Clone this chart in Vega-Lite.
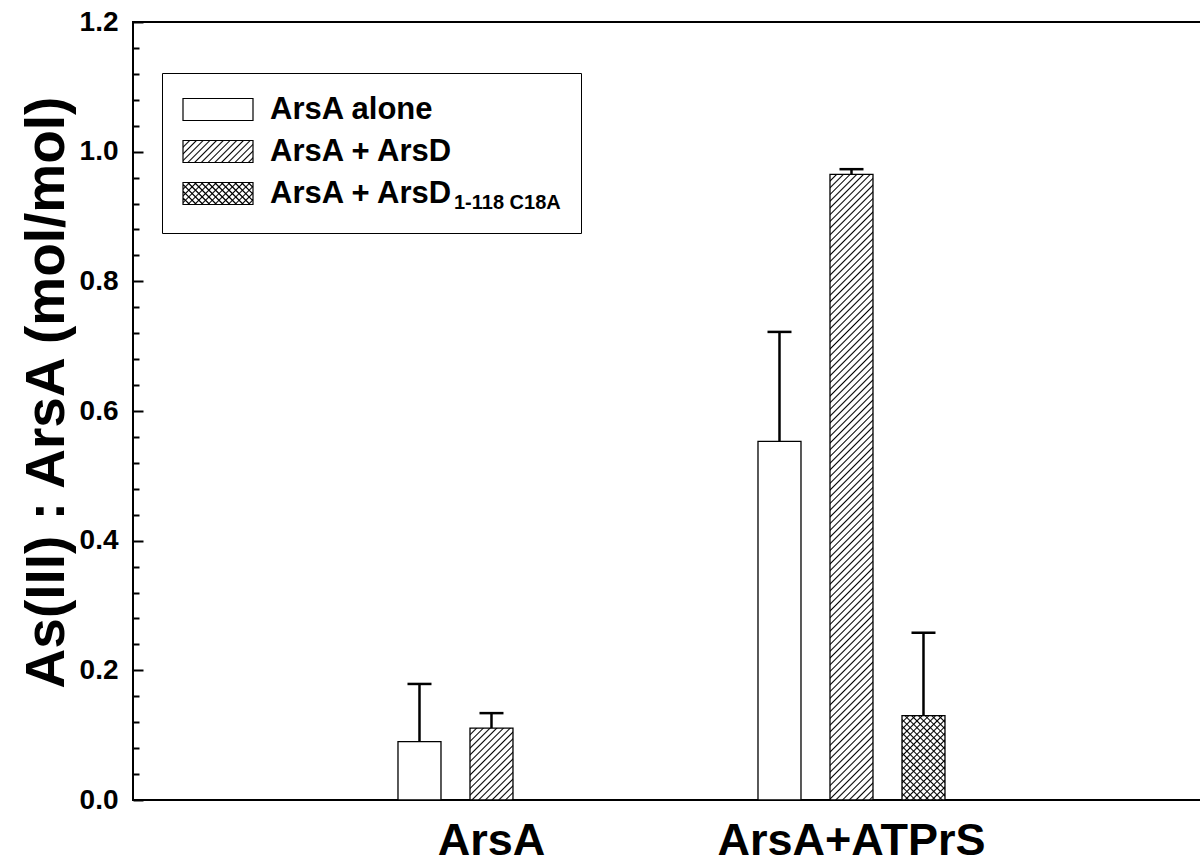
{
"$schema": "https://vega.github.io/schema/vega-lite/v6.json",
"width": 1070,
"height": 778,
"autosize": {"type": "none"},
"padding": {"left": 133, "top": 22, "right": 0, "bottom": 66},
"background": "white",
"config": {"view": {"stroke": "black", "strokeWidth": 2}, "font": "Liberation Sans"},
"params": [{"name": "hs", "value": [
{"offset":0.00,"color":"#000"},{"offset":0.0022,"color":"transparent"},{"offset":0.0078,"color":"transparent"},
{"offset":0.01,"color":"#000"},{"offset":0.0122,"color":"transparent"},{"offset":0.0178,"color":"transparent"},
{"offset":0.02,"color":"#000"},{"offset":0.0222,"color":"transparent"},{"offset":0.0278,"color":"transparent"},
{"offset":0.03,"color":"#000"},{"offset":0.0322,"color":"transparent"},{"offset":0.0378,"color":"transparent"},
{"offset":0.04,"color":"#000"},{"offset":0.0422,"color":"transparent"},{"offset":0.0478,"color":"transparent"},
{"offset":0.05,"color":"#000"},{"offset":0.0522,"color":"transparent"},{"offset":0.0578,"color":"transparent"},
{"offset":0.06,"color":"#000"},{"offset":0.0622,"color":"transparent"},{"offset":0.0678,"color":"transparent"},
{"offset":0.07,"color":"#000"},{"offset":0.0722,"color":"transparent"},{"offset":0.0778,"color":"transparent"},
{"offset":0.08,"color":"#000"},{"offset":0.0822,"color":"transparent"},{"offset":0.0878,"color":"transparent"},
{"offset":0.09,"color":"#000"},{"offset":0.0922,"color":"transparent"},{"offset":0.0978,"color":"transparent"},
{"offset":0.10,"color":"#000"},{"offset":0.1022,"color":"transparent"},{"offset":0.1078,"color":"transparent"},
{"offset":0.11,"color":"#000"},{"offset":0.1122,"color":"transparent"},{"offset":0.1178,"color":"transparent"},
{"offset":0.12,"color":"#000"},{"offset":0.1222,"color":"transparent"},{"offset":0.1278,"color":"transparent"},
{"offset":0.13,"color":"#000"},{"offset":0.1322,"color":"transparent"},{"offset":0.1378,"color":"transparent"},
{"offset":0.14,"color":"#000"},{"offset":0.1422,"color":"transparent"},{"offset":0.1478,"color":"transparent"},
{"offset":0.15,"color":"#000"},{"offset":0.1522,"color":"transparent"},{"offset":0.1578,"color":"transparent"},
{"offset":0.16,"color":"#000"},{"offset":0.1622,"color":"transparent"},{"offset":0.1678,"color":"transparent"},
{"offset":0.17,"color":"#000"},{"offset":0.1722,"color":"transparent"},{"offset":0.1778,"color":"transparent"},
{"offset":0.18,"color":"#000"},{"offset":0.1822,"color":"transparent"},{"offset":0.1878,"color":"transparent"},
{"offset":0.19,"color":"#000"},{"offset":0.1922,"color":"transparent"},{"offset":0.1978,"color":"transparent"},
{"offset":0.20,"color":"#000"},{"offset":0.2022,"color":"transparent"},{"offset":0.2078,"color":"transparent"},
{"offset":0.21,"color":"#000"},{"offset":0.2122,"color":"transparent"},{"offset":0.2178,"color":"transparent"},
{"offset":0.22,"color":"#000"},{"offset":0.2222,"color":"transparent"},{"offset":0.2278,"color":"transparent"},
{"offset":0.23,"color":"#000"},{"offset":0.2322,"color":"transparent"},{"offset":0.2378,"color":"transparent"},
{"offset":0.24,"color":"#000"},{"offset":0.2422,"color":"transparent"},{"offset":0.2478,"color":"transparent"},
{"offset":0.25,"color":"#000"},{"offset":0.2522,"color":"transparent"},{"offset":0.2578,"color":"transparent"},
{"offset":0.26,"color":"#000"},{"offset":0.2622,"color":"transparent"},{"offset":0.2678,"color":"transparent"},
{"offset":0.27,"color":"#000"},{"offset":0.2722,"color":"transparent"},{"offset":0.2778,"color":"transparent"},
{"offset":0.28,"color":"#000"},{"offset":0.2822,"color":"transparent"},{"offset":0.2878,"color":"transparent"},
{"offset":0.29,"color":"#000"},{"offset":0.2922,"color":"transparent"},{"offset":0.2978,"color":"transparent"},
{"offset":0.30,"color":"#000"},{"offset":0.3022,"color":"transparent"},{"offset":0.3078,"color":"transparent"},
{"offset":0.31,"color":"#000"},{"offset":0.3122,"color":"transparent"},{"offset":0.3178,"color":"transparent"},
{"offset":0.32,"color":"#000"},{"offset":0.3222,"color":"transparent"},{"offset":0.3278,"color":"transparent"},
{"offset":0.33,"color":"#000"},{"offset":0.3322,"color":"transparent"},{"offset":0.3378,"color":"transparent"},
{"offset":0.34,"color":"#000"},{"offset":0.3422,"color":"transparent"},{"offset":0.3478,"color":"transparent"},
{"offset":0.35,"color":"#000"},{"offset":0.3522,"color":"transparent"},{"offset":0.3578,"color":"transparent"},
{"offset":0.36,"color":"#000"},{"offset":0.3622,"color":"transparent"},{"offset":0.3678,"color":"transparent"},
{"offset":0.37,"color":"#000"},{"offset":0.3722,"color":"transparent"},{"offset":0.3778,"color":"transparent"},
{"offset":0.38,"color":"#000"},{"offset":0.3822,"color":"transparent"},{"offset":0.3878,"color":"transparent"},
{"offset":0.39,"color":"#000"},{"offset":0.3922,"color":"transparent"},{"offset":0.3978,"color":"transparent"},
{"offset":0.40,"color":"#000"},{"offset":0.4022,"color":"transparent"},{"offset":0.4078,"color":"transparent"},
{"offset":0.41,"color":"#000"},{"offset":0.4122,"color":"transparent"},{"offset":0.4178,"color":"transparent"},
{"offset":0.42,"color":"#000"},{"offset":0.4222,"color":"transparent"},{"offset":0.4278,"color":"transparent"},
{"offset":0.43,"color":"#000"},{"offset":0.4322,"color":"transparent"},{"offset":0.4378,"color":"transparent"},
{"offset":0.44,"color":"#000"},{"offset":0.4422,"color":"transparent"},{"offset":0.4478,"color":"transparent"},
{"offset":0.45,"color":"#000"},{"offset":0.4522,"color":"transparent"},{"offset":0.4578,"color":"transparent"},
{"offset":0.46,"color":"#000"},{"offset":0.4622,"color":"transparent"},{"offset":0.4678,"color":"transparent"},
{"offset":0.47,"color":"#000"},{"offset":0.4722,"color":"transparent"},{"offset":0.4778,"color":"transparent"},
{"offset":0.48,"color":"#000"},{"offset":0.4822,"color":"transparent"},{"offset":0.4878,"color":"transparent"},
{"offset":0.49,"color":"#000"},{"offset":0.4922,"color":"transparent"},{"offset":0.4978,"color":"transparent"},
{"offset":0.50,"color":"#000"},{"offset":0.5022,"color":"transparent"},{"offset":0.5078,"color":"transparent"},
{"offset":0.51,"color":"#000"},{"offset":0.5122,"color":"transparent"},{"offset":0.5178,"color":"transparent"},
{"offset":0.52,"color":"#000"},{"offset":0.5222,"color":"transparent"},{"offset":0.5278,"color":"transparent"},
{"offset":0.53,"color":"#000"},{"offset":0.5322,"color":"transparent"},{"offset":0.5378,"color":"transparent"},
{"offset":0.54,"color":"#000"},{"offset":0.5422,"color":"transparent"},{"offset":0.5478,"color":"transparent"},
{"offset":0.55,"color":"#000"},{"offset":0.5522,"color":"transparent"},{"offset":0.5578,"color":"transparent"},
{"offset":0.56,"color":"#000"},{"offset":0.5622,"color":"transparent"},{"offset":0.5678,"color":"transparent"},
{"offset":0.57,"color":"#000"},{"offset":0.5722,"color":"transparent"},{"offset":0.5778,"color":"transparent"},
{"offset":0.58,"color":"#000"},{"offset":0.5822,"color":"transparent"},{"offset":0.5878,"color":"transparent"},
{"offset":0.59,"color":"#000"},{"offset":0.5922,"color":"transparent"},{"offset":0.5978,"color":"transparent"},
{"offset":0.60,"color":"#000"},{"offset":0.6022,"color":"transparent"},{"offset":0.6078,"color":"transparent"},
{"offset":0.61,"color":"#000"},{"offset":0.6122,"color":"transparent"},{"offset":0.6178,"color":"transparent"},
{"offset":0.62,"color":"#000"},{"offset":0.6222,"color":"transparent"},{"offset":0.6278,"color":"transparent"},
{"offset":0.63,"color":"#000"},{"offset":0.6322,"color":"transparent"},{"offset":0.6378,"color":"transparent"},
{"offset":0.64,"color":"#000"},{"offset":0.6422,"color":"transparent"},{"offset":0.6478,"color":"transparent"},
{"offset":0.65,"color":"#000"},{"offset":0.6522,"color":"transparent"},{"offset":0.6578,"color":"transparent"},
{"offset":0.66,"color":"#000"},{"offset":0.6622,"color":"transparent"},{"offset":0.6678,"color":"transparent"},
{"offset":0.67,"color":"#000"},{"offset":0.6722,"color":"transparent"},{"offset":0.6778,"color":"transparent"},
{"offset":0.68,"color":"#000"},{"offset":0.6822,"color":"transparent"},{"offset":0.6878,"color":"transparent"},
{"offset":0.69,"color":"#000"},{"offset":0.6922,"color":"transparent"},{"offset":0.6978,"color":"transparent"},
{"offset":0.70,"color":"#000"},{"offset":0.7022,"color":"transparent"},{"offset":0.7078,"color":"transparent"},
{"offset":0.71,"color":"#000"},{"offset":0.7122,"color":"transparent"},{"offset":0.7178,"color":"transparent"},
{"offset":0.72,"color":"#000"},{"offset":0.7222,"color":"transparent"},{"offset":0.7278,"color":"transparent"},
{"offset":0.73,"color":"#000"},{"offset":0.7322,"color":"transparent"},{"offset":0.7378,"color":"transparent"},
{"offset":0.74,"color":"#000"},{"offset":0.7422,"color":"transparent"},{"offset":0.7478,"color":"transparent"},
{"offset":0.75,"color":"#000"},{"offset":0.7522,"color":"transparent"},{"offset":0.7578,"color":"transparent"},
{"offset":0.76,"color":"#000"},{"offset":0.7622,"color":"transparent"},{"offset":0.7678,"color":"transparent"},
{"offset":0.77,"color":"#000"},{"offset":0.7722,"color":"transparent"},{"offset":0.7778,"color":"transparent"},
{"offset":0.78,"color":"#000"},{"offset":0.7822,"color":"transparent"},{"offset":0.7878,"color":"transparent"},
{"offset":0.79,"color":"#000"},{"offset":0.7922,"color":"transparent"},{"offset":0.7978,"color":"transparent"},
{"offset":0.80,"color":"#000"},{"offset":0.8022,"color":"transparent"},{"offset":0.8078,"color":"transparent"},
{"offset":0.81,"color":"#000"},{"offset":0.8122,"color":"transparent"},{"offset":0.8178,"color":"transparent"},
{"offset":0.82,"color":"#000"},{"offset":0.8222,"color":"transparent"},{"offset":0.8278,"color":"transparent"},
{"offset":0.83,"color":"#000"},{"offset":0.8322,"color":"transparent"},{"offset":0.8378,"color":"transparent"},
{"offset":0.84,"color":"#000"},{"offset":0.8422,"color":"transparent"},{"offset":0.8478,"color":"transparent"},
{"offset":0.85,"color":"#000"},{"offset":0.8522,"color":"transparent"},{"offset":0.8578,"color":"transparent"},
{"offset":0.86,"color":"#000"},{"offset":0.8622,"color":"transparent"},{"offset":0.8678,"color":"transparent"},
{"offset":0.87,"color":"#000"},{"offset":0.8722,"color":"transparent"},{"offset":0.8778,"color":"transparent"},
{"offset":0.88,"color":"#000"},{"offset":0.8822,"color":"transparent"},{"offset":0.8878,"color":"transparent"},
{"offset":0.89,"color":"#000"},{"offset":0.8922,"color":"transparent"},{"offset":0.8978,"color":"transparent"},
{"offset":0.90,"color":"#000"},{"offset":0.9022,"color":"transparent"},{"offset":0.9078,"color":"transparent"},
{"offset":0.91,"color":"#000"},{"offset":0.9122,"color":"transparent"},{"offset":0.9178,"color":"transparent"},
{"offset":0.92,"color":"#000"},{"offset":0.9222,"color":"transparent"},{"offset":0.9278,"color":"transparent"},
{"offset":0.93,"color":"#000"},{"offset":0.9322,"color":"transparent"},{"offset":0.9378,"color":"transparent"},
{"offset":0.94,"color":"#000"},{"offset":0.9422,"color":"transparent"},{"offset":0.9478,"color":"transparent"},
{"offset":0.95,"color":"#000"},{"offset":0.9522,"color":"transparent"},{"offset":0.9578,"color":"transparent"},
{"offset":0.96,"color":"#000"},{"offset":0.9622,"color":"transparent"},{"offset":0.9678,"color":"transparent"},
{"offset":0.97,"color":"#000"},{"offset":0.9722,"color":"transparent"},{"offset":0.9778,"color":"transparent"},
{"offset":0.98,"color":"#000"},{"offset":0.9822,"color":"transparent"},{"offset":0.9878,"color":"transparent"},
{"offset":0.99,"color":"#000"},{"offset":0.9922,"color":"transparent"},{"offset":0.9978,"color":"transparent"},
{"offset":1,"color":"#000"}
]}],
"data": {"values": [
{"group": "ArsA", "series": "ArsA alone", "ratio": 0.090, "err_top": 0.179},
{"group": "ArsA", "series": "ArsA + ArsD", "ratio": 0.111, "err_top": 0.134},
{"group": "ArsA+ATPrS", "series": "ArsA alone", "ratio": 0.553, "err_top": 0.722},
{"group": "ArsA+ATPrS", "series": "ArsA + ArsD", "ratio": 0.965, "err_top": 0.973},
{"group": "ArsA+ATPrS", "series": "ArsA + ArsD1-118 C18A", "ratio": 0.130, "err_top": 0.258}
]},
"resolve": {"axis": {"y": "independent"}},
"layer": [
{
"mark": {"type": "bar", "fill": "white", "strokeWidth": 0},
"encoding": {
"x": {"field": "group", "type": "nominal", "sort": null,
"scale": {"domain": ["ArsA", "ArsA+ATPrS"], "paddingInner": 0.0806, "paddingOuter": 0.5264, "align": 0.5092},
"axis": {"title": null, "domain": false, "ticks": false, "tickSize": 0, "labelAngle": 0, "labelFont": "Liberation Sans", "labelFontSize": 45, "labelFontWeight": "bold", "labelColor": "black", "labelBaseline": "top", "labelPadding": 18, "labelLimit": 1000, "labelOverlap": false, "labelFlush": false}},
"xOffset": {"field": "series", "type": "nominal", "sort": null,
"scale": {"domain": ["ArsA alone", "ArsA + ArsD", "ArsA + ArsD1-118 C18A"], "paddingInner": 0.40278, "paddingOuter": 1}},
"y": {"field": "ratio", "type": "quantitative",
"scale": {"domain": [0, 1.2], "nice": false, "zero": true},
"axis": {"orient": "left", "values": [0, 0.2, 0.4, 0.6, 0.8, 1.0, 1.2], "format": ".1f", "grid": false, "domain": false,
"ticks": true, "tickSize": -10, "tickWidth": 2, "tickColor": "black",
"labelFont": "Liberation Sans", "labelFontSize": 28, "labelFontWeight": "bold", "labelColor": "black", "labelPadding": 25, "labelFlush": false, "labelOverlap": false,
"title": "As(III) : ArsA (mol/mol)", "titleFont": "Liberation Sans", "titleFontSize": 55, "titleFontWeight": "bold", "titleColor": "black",
"titleAngle": -90, "titleX": -70, "titleY": 370, "titleAlign": "center", "titleBaseline": "alphabetic"}}
}
},
{
"transform": [{"filter": "datum.series !== 'ArsA alone'"}],
"mark": {"type": "bar", "strokeWidth": 0},
"encoding": {
"x": {"field": "group", "type": "nominal", "sort": null},
"xOffset": {"field": "series", "type": "nominal", "sort": null},
"y": {"field": "ratio", "type": "quantitative", "axis": null},
"fill": {"value": {"expr": "{gradient:'linear',x1:0,y1:0,x2:bandwidth('xOffset')*671.75/(pow(bandwidth('xOffset'),2)+pow(scale('y',0)-scale('y',datum.ratio),2)),y2:(scale('y',0)-scale('y',datum.ratio))*671.75/(pow(bandwidth('xOffset'),2)+pow(scale('y',0)-scale('y',datum.ratio),2)),stops:hs}"}}
}
},
{
"transform": [{"filter": "datum.series === 'ArsA + ArsD1-118 C18A'"}],
"mark": {"type": "bar", "strokeWidth": 0},
"encoding": {
"x": {"field": "group", "type": "nominal", "sort": null},
"xOffset": {"field": "series", "type": "nominal", "sort": null},
"y": {"field": "ratio", "type": "quantitative", "axis": null},
"fill": {"value": {"expr": "{gradient:'linear',x1:0,y1:1,x2:bandwidth('xOffset')*671.75/(pow(bandwidth('xOffset'),2)+pow(scale('y',0)-scale('y',datum.ratio),2)),y2:1-(scale('y',0)-scale('y',datum.ratio))*671.75/(pow(bandwidth('xOffset'),2)+pow(scale('y',0)-scale('y',datum.ratio),2)),stops:hs}"}}
}
},
{
"mark": {"type": "bar", "fillOpacity": 0, "stroke": "black", "strokeWidth": 1.3},
"encoding": {
"x": {"field": "group", "type": "nominal", "sort": null},
"xOffset": {"field": "series", "type": "nominal", "sort": null},
"y": {"field": "ratio", "type": "quantitative",
"axis": {"orient": "left", "values": [0.04,0.08,0.12,0.16,0.24,0.28,0.32,0.36,0.44,0.48,0.52,0.56,0.64,0.68,0.72,0.76,0.84,0.88,0.92,0.96,1.04,1.08,1.12,1.16],
"grid": false, "domain": false, "labels": false, "title": null, "ticks": true, "tickSize": -6, "tickWidth": 2, "tickColor": "black"}}
}
},
{
"mark": {"type": "rule", "stroke": "black", "strokeWidth": 2.5},
"encoding": {
"x": {"field": "group", "type": "nominal", "sort": null},
"xOffset": {"field": "series", "type": "nominal", "sort": null},
"y": {"field": "ratio", "type": "quantitative", "axis": null},
"y2": {"field": "err_top"}
}
},
{
"mark": {"type": "tick", "color": "black", "thickness": 2.5, "size": 24, "opacity": 1},
"encoding": {
"x": {"field": "group", "type": "nominal", "sort": null},
"xOffset": {"field": "series", "type": "nominal", "sort": null},
"y": {"field": "err_top", "type": "quantitative", "axis": null}
}
},
{
"transform": [{"filter": "false"}],
"mark": {"type": "point"},
"encoding": {
"shape": {"field": "series", "type": "nominal",
"scale": {"domain": ["ArsA alone", "ArsA + ArsD", "ArsA + ArsD1-118 C18A"], "range": ["M-1,-0.7097H3.5161V0.7097H-1Z", "M-1,-0.7097H3.5161V0.7097H-1Z", "M-1,-0.7097H3.5161V0.7097H-1ZM-1,0.2774L-0.5677,0.7097M-1,-0.1548L-0.1355,0.7097M-1,-0.5871L0.2968,0.7097M-0.6903,-0.7097L0.7290,0.7097M-0.2581,-0.7097L1.1613,0.7097M0.1742,-0.7097L1.5935,0.7097M0.6065,-0.7097L2.0258,0.7097M1.0387,-0.7097L2.4581,0.7097M1.4710,-0.7097L2.8903,0.7097M1.9032,-0.7097L3.3226,0.7097M2.3355,-0.7097L3.5161,0.4710M2.7677,-0.7097L3.5161,0.0387M3.2,-0.7097L3.5161,-0.3935"]},
"legend": {"orient": "none", "legendX": 29, "legendY": 51, "direction": "vertical", "padding": 20, "rowPadding": 10,
"strokeColor": "black",
"title": "1-118 C18A", "titleOrient": "right", "titleAnchor": "end", "titleBaseline": "alphabetic", "titleAlign": "left", "titlePadding": 1, "titleLimit": 500,
"titleFont": "Liberation Sans", "titleFontSize": 20, "titleFontWeight": "bold", "titleColor": "black",
"symbolSize": 961, "labelOffset": 55,
"labelFont": "Liberation Sans", "labelFontSize": 31, "labelFontWeight": "bold", "labelColor": "black", "labelLimit": 800, "labelBaseline": "middle",
"labelExpr": "datum.value === 'ArsA + ArsD1-118 C18A' ? 'ArsA + ArsD' : datum.label",
"encoding": {"symbols": {
"fill": {"value": {"expr": "datum.value === 'ArsA alone' ? 'white' : {gradient:'linear',x1:0,y1:0,x2:8.7338,y2:2.7449,stops:hs}"}},
"stroke": {"value": "black"}, "strokeWidth": {"value": 1.2}, "size": {"value": 961}, "opacity": {"value": 1}}}}}
}
}
]
}
